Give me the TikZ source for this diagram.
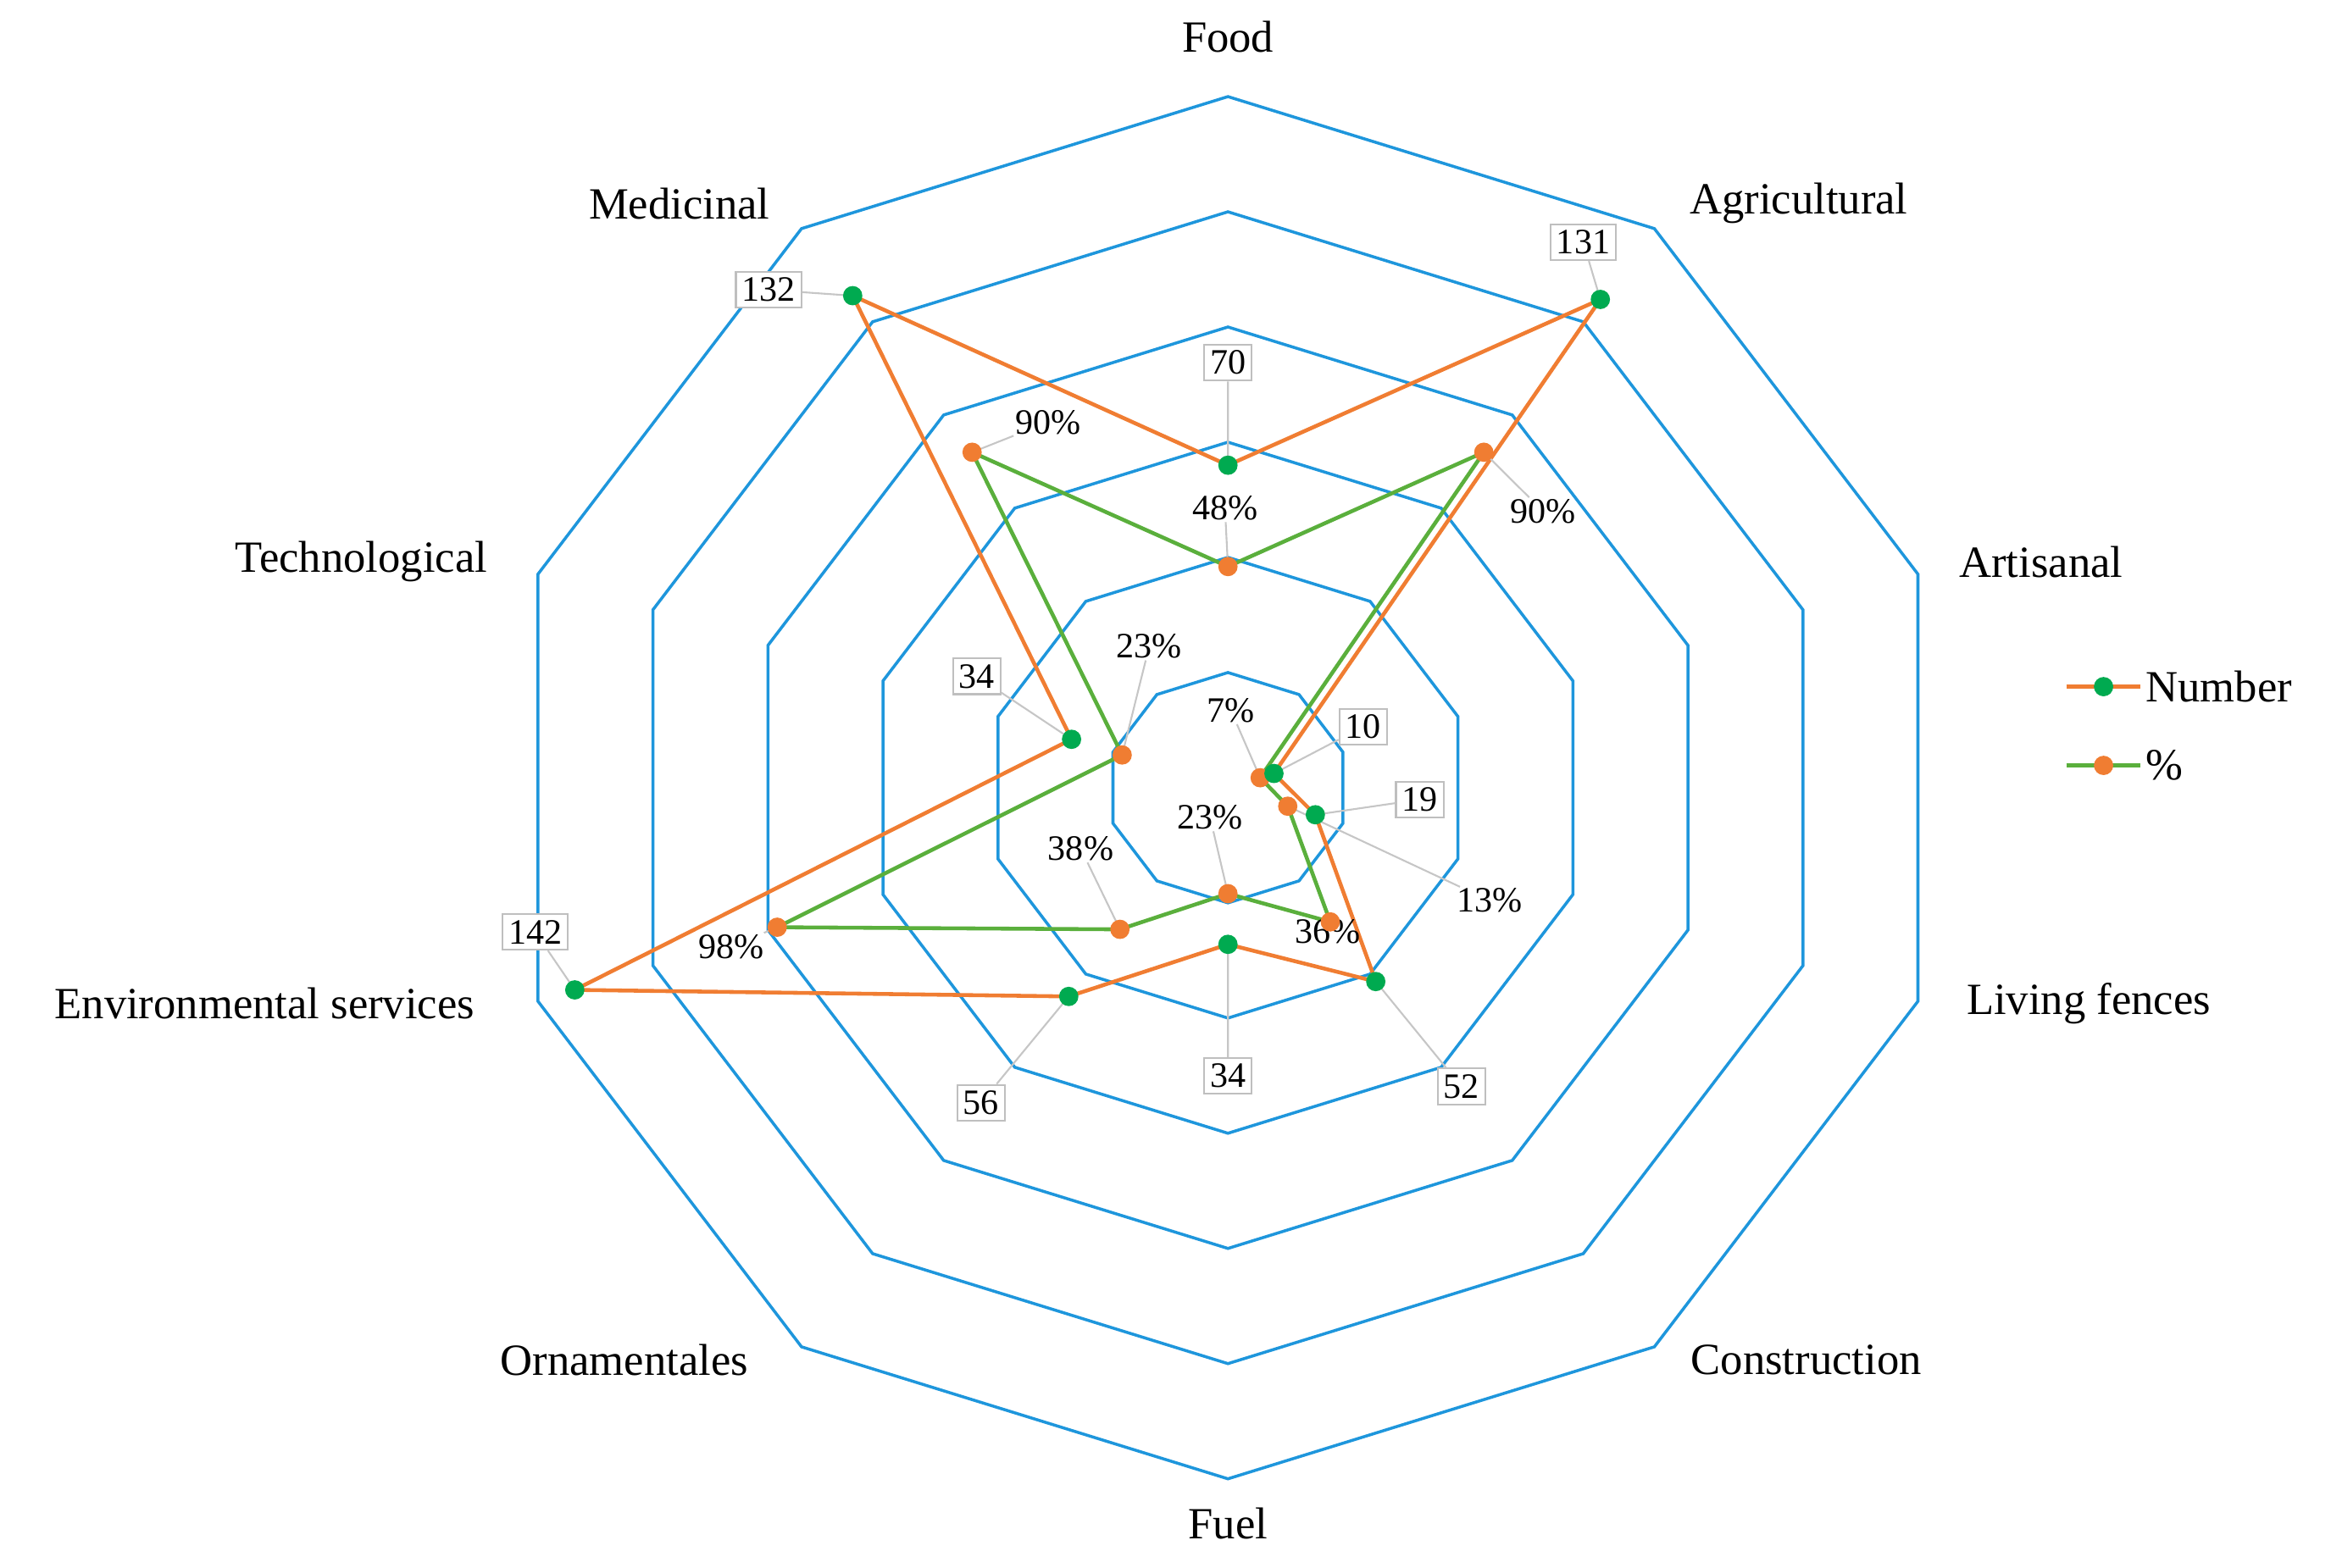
\documentclass[tikz,border=0pt]{standalone}
\usepackage{fontspec}
\setmainfont{Liberation Serif}
\begin{document}
\begin{tikzpicture}[x=1pt,y=-1pt,
  ring/.style={draw={rgb,255:red,30;green,150;blue,220},line width=2},
  num/.style={draw={rgb,255:red,240;green,125;blue,50},line width=2.6,line join=round},
  pct/.style={draw={rgb,255:red,90;green,175;blue,60},line width=2.6,line join=round},
  gdot/.style={circle,fill={rgb,255:red,0;green,170;blue,80},inner sep=0,minimum size=13},
  odot/.style={circle,fill={rgb,255:red,240;green,125;blue,50},inner sep=0,minimum size=13},
  axl/.style={font=\fontsize{30}{34}\selectfont},
  box/.style={draw=gray!50,fill=white,line width=1.2,inner sep=4,font=\fontsize{24}{28}\selectfont},
  plab/.style={inner sep=1,font=\fontsize{24}{28}\selectfont},
  lead/.style={draw=gray!45,line width=1.2}]
\useasboundingbox (0,0) rectangle (1568,1055);
% rings
\foreach \k in {1,...,6}{
  \foreach \i in {0,...,9}{
    \coordinate (R\k-\i) at ({826+\k/6*488*cos(90-36*\i)},{530-\k/6*465*sin(90-36*\i)});
  }
  \draw[ring] (R\k-0)--(R\k-1)--(R\k-2)--(R\k-3)--(R\k-4)--(R\k-5)--(R\k-6)--(R\k-7)--(R\k-8)--(R\k-9)--cycle;
}
% data
\foreach \v [count=\c from 0] in {70,131,10,19,52,34,56,142,34,132}{
  \coordinate (N\c) at ({826+\v/150*488*cos(90-36*\c)},{530-\v/150*465*sin(90-36*\c)});
}
\foreach \v [count=\c from 0] in {48,90,7,13,36,23,38,98,23,90}{
  \coordinate (P\c) at ({826+\v/150*488*cos(90-36*\c)},{530-\v/150*465*sin(90-36*\c)});
}
\draw[pct] (P0)--(P1)--(P2)--(P3)--(P4)--(P5)--(P6)--(P7)--(P8)--(P9)--cycle;
\draw[num] (N0)--(N1)--(N2)--(N3)--(N4)--(N5)--(N6)--(N7)--(N8)--(N9)--cycle;
% leaders and labels
\node[box] (l70) at (826,244) {70};
\node[box] (l131) at (1065,163) {131};
\node[box] (l132) at (517,195) {132};
\node[box] (l34t) at (657,455) {34};
\node[box] (l142) at (360,627) {142};
\node[box] (l56) at (660,742) {56};
\node[box] (l34f) at (826,724) {34};
\node[box] (l52) at (983,731) {52};
\node[box] (l19) at (955,538) {19};
\node[box] (l10) at (917,489) {10};
\node[plab] (q90m) at (705,284) {90\%};
\node[plab] (q48) at (824,342) {48\%};
\node[plab] (q90a) at (1038,344) {90\%};
\node[plab] (q23t) at (773,435) {23\%};
\node[plab] (q7) at (828,478) {7\%};
\node[plab] (q23f) at (814,550) {23\%};
\node[plab] (q38) at (727,571) {38\%};
\node[plab] (q13) at (1002,606) {13\%};
\node[plab] (q36) at (893,627) {36\%};
\node[plab] (q98) at (492,637) {98\%};
\draw[lead] (l70)--(N0) (l131)--(N1) (l132)--(N9) (l34t)--(N8) (l142)--(N7)
  (l56)--(N6) (l34f)--(N5) (l52)--(N4) (l19)--(N3) (l10)--(N2);
\draw[lead] (q90m)--(P9) (q48)--(P0) (q90a)--(P1) (q23t)--(P8) (q7)--(P2)
  (q23f)--(P5) (q38)--(P6) (q13)--(P3) (q98)--(P7);
\foreach \c in {0,...,9}{
  \node[odot] at (P\c) {};
  \node[gdot] at (N\c) {};
}
% axis labels
\node[axl] (a0) at (826,25) {Food};
\node[axl] (a1) at (1210,137) {Agricultural};
\node[axl] (a2) at (1373,378) {Artisanal};
\node[axl] (a3) at (1405,675) {Living fences};
\node[axl] (a4) at (1215,915) {Construction};
\node[axl] (a5) at (826,1025) {Fuel};
\node[axl] (a6) at (420,915) {Ornamentales};
\node[axl] (a7) at (178,675) {Environmental services};
\node[axl] (a8) at (243,378) {Technological};
\node[axl] (a9) at (457,137) {Medicinal};
% legend
\coordinate (lg1a) at (1390,462); \coordinate (lg1b) at (1440,462);
\coordinate (lg2a) at (1390,515); \coordinate (lg2b) at (1440,515);
\draw[num] (lg1a)--(lg1b); \node[gdot] at (1415,462) {};
\draw[pct] (lg2a)--(lg2b); \node[odot] at (1415,515) {};
\node[axl,anchor=west] (ln) at (1440,462) {Number};
\node[axl,anchor=west] (lp) at (1440,515) {\%};
\end{tikzpicture}
\end{document}
